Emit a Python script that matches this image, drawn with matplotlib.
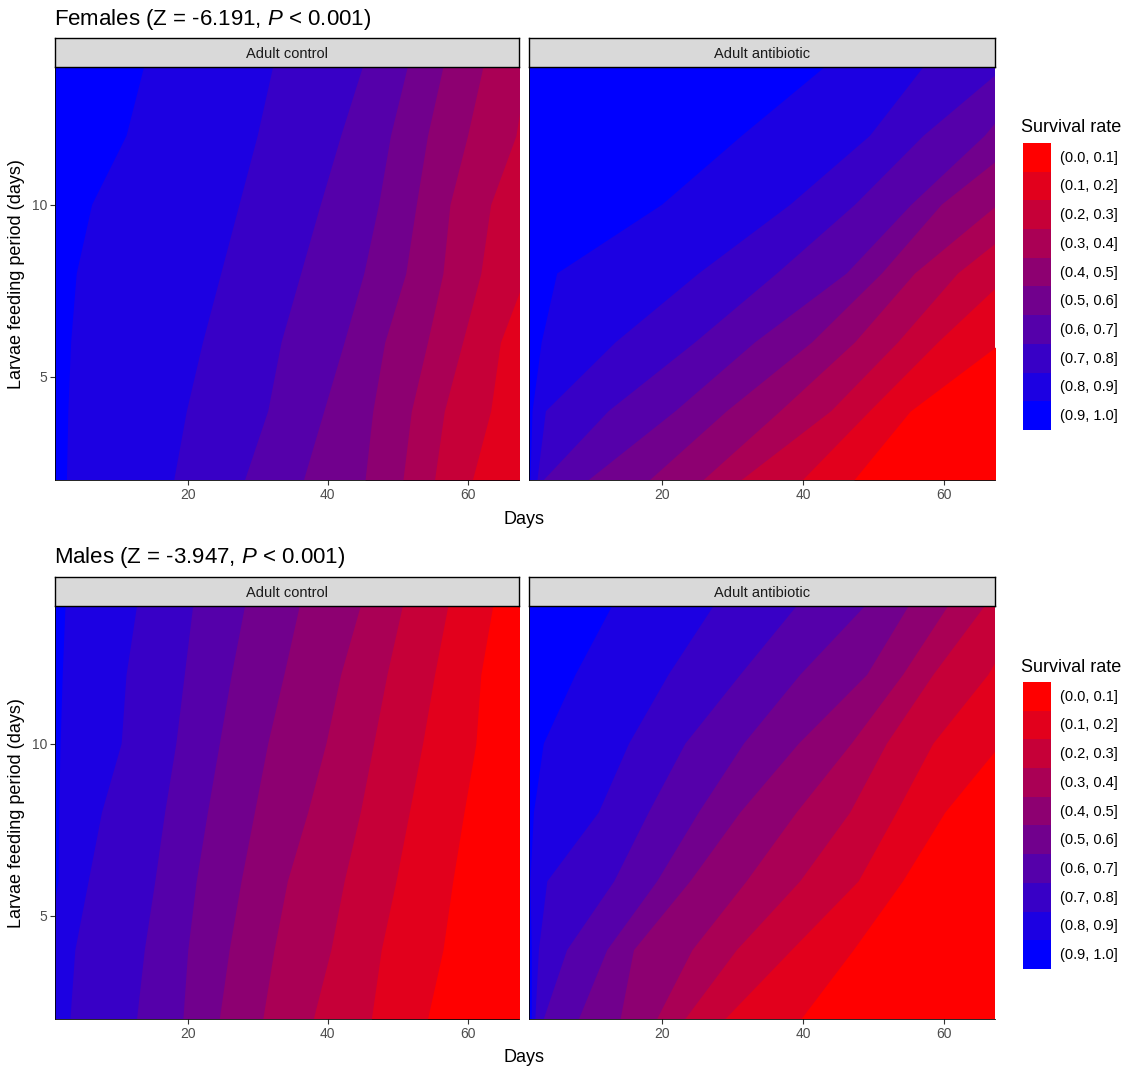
import matplotlib.pyplot as plt
from matplotlib.patches import Patch

plt.rcParams['font.family'] = ['Liberation Sans', 'DejaVu Sans']
plt.rcParams['mathtext.fontset'] = 'custom'
plt.rcParams['mathtext.rm'] = 'Liberation Sans'
plt.rcParams['mathtext.it'] = 'Liberation Sans:italic'

# larvae feeding period (days) at which the contour boundaries were read
larvae = [2, 4, 6, 8, 10, 12, 14]

rate_labels = ['(0.0, 0.1]', '(0.1, 0.2]', '(0.2, 0.3]', '(0.3, 0.4]', '(0.4, 0.5]',
               '(0.5, 0.6]', '(0.6, 0.7]', '(0.7, 0.8]', '(0.8, 0.9]', '(0.9, 1.0]']
rate_colors = ['#FF0000', '#E2001C', '#C60038', '#AA0055', '#8D0071',
               '#71008D', '#5500AA', '#3800C6', '#1C00E2', '#0000FF']

# day where survival falls below 0.9, 0.8, ... 0.1 (one row per threshold)
fem_control = [
    [2.8, 3.0, 3.4, 4.2, 6.4, 11.3, 13.8],
    [18.1, 19.9, 22.2, 24.8, 27.4, 30.0, 32.2],
    [28.2, 31.5, 33.4, 36.2, 39.0, 41.9, 45.0],
    [36.6, 39.5, 42.4, 45.2, 47.3, 49.0, 51.4],
    [45.3, 46.4, 48.1, 51.1, 52.6, 54.2, 56.4],
    [50.7, 51.9, 54.2, 56.4, 57.4, 59.9, 62.1],
    [55.2, 56.6, 59.2, 61.8, 63.2, 66.8, 68.4],
    [60.6, 63.2, 64.6, 68.3, 71.0, 74.0, 77.0],
    [75.0, 78.0, 81.0, 84.0, 87.0, 90.0, 93.0],
]
fem_antibiotic = [
    [1.3, 1.6, 2.9, 5.1, 20.0, 31.3, 43.1],
    [2.3, 3.5, 13.4, 25.2, 38.2, 49.5, 57.1],
    [3.2, 12.4, 24.7, 36.3, 47.4, 57.1, 68.7],
    [9.6, 21.9, 33.2, 46.2, 55.4, 65.8, 73.9],
    [18.3, 29.2, 41.3, 51.2, 59.7, 72.0, 81.4],
    [25.9, 36.8, 47.4, 55.9, 67.7, 79.0, 90.9],
    [31.3, 44.0, 53.5, 62.0, 74.3, 85.0, 99.0],
    [40.0, 49.5, 59.2, 69.6, 80.0, 90.0, 104.0],
    [47.2, 55.2, 68.2, 76.0, 86.0, 96.0, 110.0],
]
male_control = [
    [0.0, 0.0, 1.6, 1.7, 1.9, 2.2, 2.6],
    [3.3, 4.0, 5.9, 7.8, 10.6, 11.3, 12.8],
    [12.8, 13.9, 15.4, 16.8, 18.4, 19.6, 20.8],
    [19.4, 20.1, 21.3, 22.9, 24.6, 26.3, 28.2],
    [24.6, 26.0, 27.7, 29.6, 31.5, 33.8, 36.0],
    [30.8, 32.4, 34.3, 37.2, 39.8, 41.9, 44.7],
    [38.0, 40.5, 42.4, 44.7, 46.6, 48.5, 50.7],
    [46.2, 47.6, 49.7, 51.6, 53.5, 55.2, 57.1],
    [54.2, 56.4, 57.8, 59.4, 61.1, 61.8, 63.5],
]
male_antibiotic = [
    [1.5, 1.5, 1.3, 1.8, 3.2, 7.7, 12.9],
    [2.0, 2.5, 3.7, 11.0, 15.3, 20.9, 27.3],
    [3.2, 6.5, 13.2, 18.1, 23.3, 31.1, 39.1],
    [8.2, 12.2, 19.3, 25.2, 31.6, 39.6, 48.8],
    [14.1, 16.0, 24.0, 31.1, 39.4, 49.1, 55.0],
    [19.3, 24.3, 32.0, 39.1, 46.9, 54.2, 60.6],
    [23.3, 30.6, 39.6, 46.7, 51.9, 58.5, 65.8],
    [29.0, 38.4, 47.9, 53.3, 58.5, 66.3, 72.0],
    [39.8, 47.2, 54.2, 60.2, 68.2, 74.0, 81.0],
]

W, H = 1123, 1068
fig = plt.figure(figsize=(W / 100, H / 100), dpi=100)


def fx(px):
    return px / W


def fy(py):
    return 1 - py / H


def draw_panel(left, top, width, height, bounds, strip, ylabel):
    ax = fig.add_axes([fx(left), fy(top + height), fx(width), height / H])
    # paint from blue (high survival) to red, each band from its left boundary to the right
    edges = [[0] * len(larvae)] + bounds
    for i, e in enumerate(edges):
        ax.fill_betweenx(larvae, e, [200] * len(larvae), color=rate_colors[9 - i], lw=0)
    ax.set_xlim(1.1, 67.25)
    ax.set_ylim(2, 14)
    ax.set_xticks([20, 40, 60])
    ax.set_yticks([5, 10])
    ax.tick_params(length=3.5, width=0.8, color='#333333', labelcolor='#4D4D4D',
                   labelsize=10, pad=2)
    for s in ['top', 'right']:
        ax.spines[s].set_visible(False)
    for s in ['left', 'bottom']:
        ax.spines[s].set_linewidth(0.6)
    if not ylabel:
        ax.set_yticklabels([])
        ax.tick_params(axis='y', length=0)
    sax = fig.add_axes([fx(left), fy(top), fx(width), 29 / H])
    sax.set_facecolor('#D9D9D9')
    sax.set_xticks([])
    sax.set_yticks([])
    for s in sax.spines.values():
        s.set_linewidth(1.0)
        s.set_color('black')
    sax.text(0.5, 0.45, strip, ha='center', va='center', fontsize=10.5, color='#1A1A1A',
             transform=sax.transAxes)
    return ax


rows = [
    ('Females (Z = -6.191, $P$ < 0.001)', 38, fem_control, fem_antibiotic),
    ('Males (Z = -3.947, $P$ < 0.001)', 577, male_control, male_antibiotic),
]

for title, top, ctrl, anti in rows:
    draw_panel(55, top + 29, 464, 413, ctrl, 'Adult control', True)
    draw_panel(529, top + 29, 466, 413, anti, 'Adult antibiotic', False)
    fig.text(fx(54), fy(top - 19), title, fontsize=16, va='center', ha='left')
    fig.text(fx(524), fy(top + 481), 'Days', fontsize=13, ha='center', va='center')
    fig.text(fx(17), fy(top + 236), 'Larvae feeding period (days)', fontsize=13,
             rotation=90, ha='center', va='center')
    fig.text(fx(1021), fy(top + 90), 'Survival rate', fontsize=13, ha='left', va='center')
    handles = [Patch(facecolor=c, edgecolor='none') for c in rate_colors]
    fig.legend(handles, rate_labels, loc='upper left',
               bbox_to_anchor=(fx(1023), fy(top + 105)), frameon=False,
               fontsize=10.5, handlelength=1.92, handleheight=2.65,
               labelspacing=0, handletextpad=0.62, borderpad=0, borderaxespad=0)

fig.savefig('out.png', dpi=100)
